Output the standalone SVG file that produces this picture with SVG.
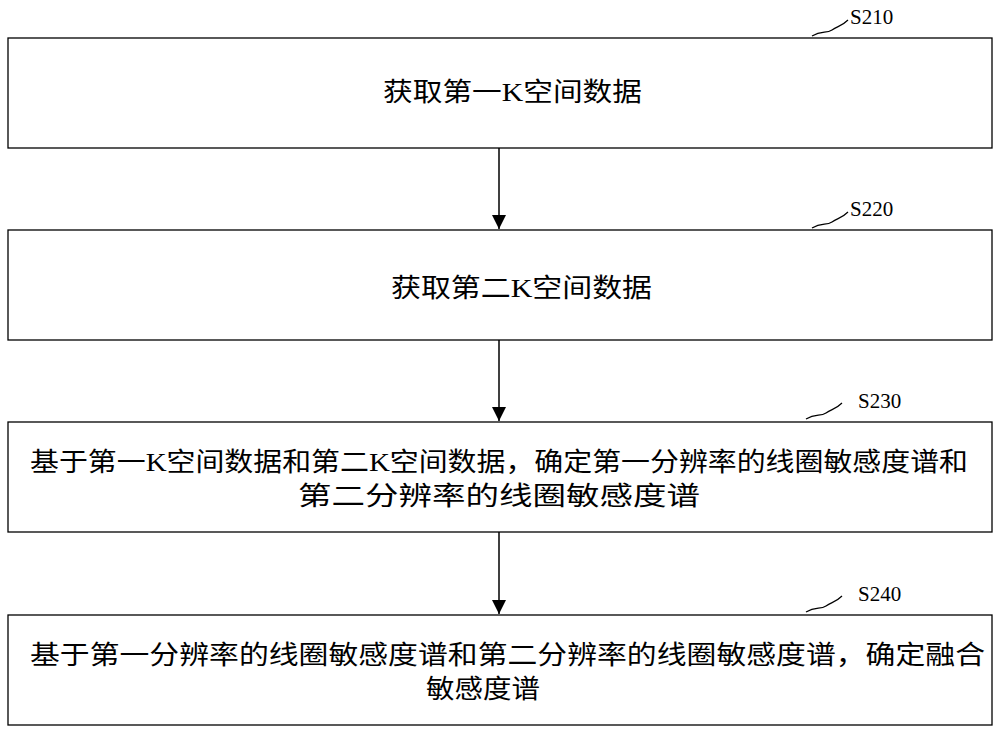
<svg xmlns="http://www.w3.org/2000/svg" width="1000" height="733" viewBox="0 0 1000 733">
<defs><marker id="ah" markerWidth="14" markerHeight="24" refX="14" refY="12" orient="auto" markerUnits="userSpaceOnUse"><path d="M0,5 L14,12 L0,19 Z" fill="#000"/></marker>
<style>.b{fill:#fff;stroke:#000;stroke-width:1.3}.t{font-family:"Liberation Serif","Noto Sans CJK SC",serif;font-size:26px;fill:#000}.l{font-family:"Liberation Serif",serif;font-size:21px;fill:#000}.s{fill:none;stroke:#000;stroke-width:1.2}.c{stroke:#000;stroke-width:1.5;fill:none}</style></defs>
<g id="n1"><rect class="b" x="8" y="38" width="984" height="110"/><text class="t" x="383" y="101" textLength="259" lengthAdjust="spacingAndGlyphs">获取第一K空间数据</text><path class="s" d="M812,36 C822,30 826,34 832,30 C838,26 842,26 848,20"/><text class="l" x="850" y="24">S210</text></g>
<g id="n2"><rect class="b" x="8" y="230" width="984" height="110"/><text class="t" x="391" y="297" textLength="261" lengthAdjust="spacingAndGlyphs">获取第二K空间数据</text><path class="s" d="M812,228 C822,222 826,226 832,222 C838,218 842,218 848,212"/><text class="l" x="850" y="216">S220</text></g>
<g id="n3"><rect class="b" x="8" y="422" width="984" height="110"/><text class="t" x="30" y="471" textLength="938" lengthAdjust="spacingAndGlyphs">基于第一K空间数据和第二K空间数据，确定第一分辨率的线圈敏感度谱和</text><text class="t" x="298" y="505" textLength="402" lengthAdjust="spacingAndGlyphs">第二分辨率的线圈敏感度谱</text><path class="s" d="M806,419 C816,413 820,417 826,413 C832,409 836,409 842,403"/><text class="l" x="858" y="408">S230</text></g>
<g id="n4"><rect class="b" x="8" y="615" width="984" height="110"/><text class="t" x="30" y="664" textLength="955" lengthAdjust="spacingAndGlyphs">基于第一分辨率的线圈敏感度谱和第二分辨率的线圈敏感度谱，确定融合</text><text class="t" x="426" y="698" textLength="114" lengthAdjust="spacingAndGlyphs">敏感度谱</text><path class="s" d="M806,612 C816,606 820,610 826,606 C832,602 836,602 842,596"/><text class="l" x="858" y="601">S240</text></g>
<g id="connectors"><line class="c" x1="499" y1="148" x2="499" y2="229" marker-end="url(#ah)"/><line class="c" x1="499" y1="340" x2="499" y2="421" marker-end="url(#ah)"/><line class="c" x1="499" y1="532" x2="499" y2="614" marker-end="url(#ah)"/></g>
</svg>
